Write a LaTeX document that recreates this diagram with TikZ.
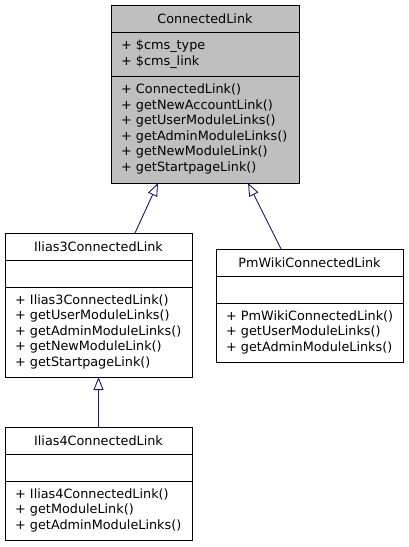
\documentclass[tikz,border=0pt]{standalone}
\usepackage{fontspec}
\setmainfont{DejaVu Sans}
\usetikzlibrary{arrows.meta}
\definecolor{navy}{HTML}{191970}
\definecolor{grey75}{HTML}{BFBFBF}
\begin{document}
\begin{tikzpicture}[x=1bp,y=-1bp,
  classbox/.style={draw=black, line width=1bp, fill=white, anchor=north west, inner sep=0, outer sep=0},
  basebox/.style={classbox, fill=grey75},
  sepline/.style={draw=black, line width=1bp},
  title/.style={anchor=base, inner sep=0, font=\fontsize{12.8bp}{15.5bp}\selectfont},
  member/.style={anchor=base west, inner sep=0, font=\fontsize{12.8bp}{15.5bp}\selectfont},
  inherit/.style={draw=navy, line width=0.9bp, -{Triangle[open, length=13bp, width=10bp, fill=white]}}]
\useasboundingbox (0,0) rectangle (408,547);
% ConnectedLink
\node[basebox, minimum width=188bp, minimum height=177bp] (cl) at (111,6) {};
\draw[sepline] ([yshift=-27bp]cl.north west) -- ([yshift=-27bp]cl.north east);
\draw[sepline] ([yshift=-71bp]cl.north west) -- ([yshift=-71bp]cl.north east);
\node[title] (clt) at (205,24) {ConnectedLink};
\node[member] (cla1) at (121,50) {+ \$cms\_type};
\node[member] (cla2) at (121,65.5) {+ \$cms\_link};
\node[member] (clm1) at (121,94) {+ ConnectedLink()};
\node[member] (clm2) at (121,109.5) {+ getNewAccountLink()};
\node[member] (clm3) at (121,125) {+ getUserModuleLinks()};
\node[member] (clm4) at (121,140.5) {+ getAdminModuleLinks()};
\node[member] (clm5) at (121,156) {+ getNewModuleLink()};
\node[member] (clm6) at (121,171.5) {+ getStartpageLink()};
% Ilias3ConnectedLink
\node[classbox, minimum width=187bp, minimum height=144bp] (il3) at (5,233) {};
\draw[sepline] ([yshift=-27bp]il3.north west) -- ([yshift=-27bp]il3.north east);
\draw[sepline] ([yshift=-54bp]il3.north west) -- ([yshift=-54bp]il3.north east);
\node[title] (il3t) at (98.5,251) {Ilias3ConnectedLink};
\node[member] (il3m1) at (15,304) {+ Ilias3ConnectedLink()};
\node[member] (il3m2) at (15,319.5) {+ getUserModuleLinks()};
\node[member] (il3m3) at (15,335) {+ getAdminModuleLinks()};
\node[member] (il3m4) at (15,350.5) {+ getNewModuleLink()};
\node[member] (il3m5) at (15,366) {+ getStartpageLink()};
% PmWikiConnectedLink
\node[classbox, minimum width=187bp, minimum height=113bp] (pm) at (216,249) {};
\draw[sepline] ([yshift=-27bp]pm.north west) -- ([yshift=-27bp]pm.north east);
\draw[sepline] ([yshift=-54bp]pm.north west) -- ([yshift=-54bp]pm.north east);
\node[title] (pmt) at (309.5,267) {PmWikiConnectedLink};
\node[member] (pmm1) at (226,320) {+ PmWikiConnectedLink()};
\node[member] (pmm2) at (226,335.5) {+ getUserModuleLinks()};
\node[member] (pmm3) at (226,351) {+ getAdminModuleLinks()};
% Ilias4ConnectedLink
\node[classbox, minimum width=187bp, minimum height=113bp] (il4) at (5,427) {};
\draw[sepline] ([yshift=-27bp]il4.north west) -- ([yshift=-27bp]il4.north east);
\draw[sepline] ([yshift=-54bp]il4.north west) -- ([yshift=-54bp]il4.north east);
\node[title] (il4t) at (98.5,445) {Ilias4ConnectedLink};
\node[member] (il4m1) at (15,498) {+ Ilias4ConnectedLink()};
\node[member] (il4m2) at (15,513.5) {+ getModuleLink()};
\node[member] (il4m3) at (15,529) {+ getAdminModuleLinks()};
% inheritance
\draw[inherit] ([xshift=36.5bp]il3.north) -- ([xshift=-47bp]cl.south);
\draw[inherit] ([xshift=-28.5bp]pm.north) -- ([xshift=43bp]cl.south);
\draw[inherit] (il4.north) -- (il3.south);
\end{tikzpicture}
\end{document}
